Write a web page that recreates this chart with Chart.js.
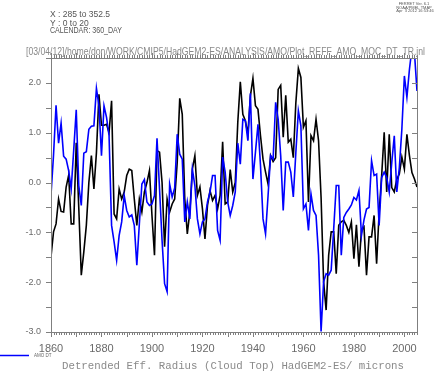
<!DOCTYPE html>
<html><head><meta charset="utf-8">
<script src="https://cdn.jsdelivr.net/npm/chart.js@4"></script>
<style>html,body{margin:0;padding:0;background:#fff;overflow:hidden}canvas{display:block}</style>
</head><body>
<canvas id="c" width="445" height="371"></canvas>
<script>
// ---- data ----
const years = [1860,1861,1862,1863,1864,1865,1866,1867,1868,1869,1870,1871,1872,1873,1874,1875,1876,1877,1878,1879,
1880,1881,1882,1883,1884,1885,1886,1887,1888,1889,1890,1891,1892,1893,1894,1895,1896,1897,1898,1899,
1900,1901,1902,1903,1904,1905,1906,1907,1908,1909,1910,1911,1912,1913,1914,1915,1916,1917,1918,1919,
1920,1921,1922,1923,1924,1925,1926,1927,1928,1929,1930,1931,1932,1933,1934,1935,1936,1937,1938,1939,
1940,1941,1942,1943,1944,1945,1946,1947,1948,1949,1950,1951,1952,1953,1954,1955,1956,1957,1958,1959,
1960,1961,1962,1963,1964,1965,1966,1967,1968,1969,1970,1971,1972,1973,1974,1975,1976,1977,1978,1979,
1980,1981,1982,1983,1984,1985,1986,1987,1988,1989,1990,1991,1992,1993,1994,1995,1996,1997,1998,1999,
2000,2001,2002,2003,2004,2005];

// black series: detrended effective radius (cloud top)
const reffDT = [-1.49,-0.99,-0.83,-0.33,-0.58,-0.59,-0.09,0.15,-0.83,-0.83,
0.80,-0.50,-1.86,-1.39,-0.86,0.00,0.54,-0.13,0.60,1.77,
1.15,1.15,1.17,1.00,1.64,-0.63,-0.73,-0.13,-0.33,-0.19,
0.14,0.27,0.24,-0.33,-0.86,-0.33,-0.59,-0.19,0.00,0.24,
-0.66,-1.46,0.64,0.61,0.00,-1.29,-0.33,-0.59,-0.43,-0.33,
0.40,1.69,1.37,-0.33,-1.03,-0.59,0.27,0.54,-0.26,-0.09,
-0.53,-1.13,-0.46,-0.16,-0.36,-0.26,-0.53,-0.26,0.82,-0.43,
-0.39,0.26,-0.19,0.00,1.21,2.02,1.37,1.24,0.97,1.74,
2.09,1.54,1.47,0.94,0.47,0.21,-0.03,0.54,0.42,0.50,
1.87,1.95,0.91,1.75,0.81,0.87,0.50,1.60,2.29,2.11,
1.11,1.24,-0.39,0.94,0.84,1.27,0.84,-0.30,-1.99,-2.56,
-1.46,-0.99,-0.99,-1.83,-0.86,-0.79,-0.76,-0.86,-1.00,-0.79,
-1.53,-0.85,-1.69,-0.95,-0.89,-1.86,-1.09,-1.09,-0.66,-1.63,
-0.60,0.14,1.01,-0.19,0.97,-0.10,-0.19,0.07,0.17,0.51,
0.27,0.97,0.54,0.20,0.07,-0.09];

// blue series: AMO DT
const amoDT = [-0.25,0.55,1.55,0.79,1.19,0.53,0.47,0.24,-0.13,0.65,
1.46,-0.06,-0.46,0.59,0.62,1.07,1.13,1.14,1.89,1.54,
0.54,1.54,1.31,0.94,-0.86,-1.19,-1.56,-1.06,-0.79,-0.26,
-0.56,-0.69,-0.65,-0.86,-1.66,-0.83,-0.03,0.06,-0.39,-0.46,
-0.43,-0.26,0.89,-0.13,-1.16,-2.03,-2.19,-0.03,-0.29,-0.11,
0.97,0.57,0.47,-0.79,-0.39,-0.73,0.27,-0.06,-0.73,-1.03,
-0.79,-0.73,-0.39,-0.19,0.14,0.14,-0.96,-1.16,0.51,0.21,
-0.39,-0.66,-0.46,-0.19,0.79,0.37,1.27,1.24,0.84,1.79,
0.07,0.61,1.17,0.34,-0.73,-1.03,-0.26,0.54,0.47,1.61,
1.27,0.54,-0.56,0.41,0.41,0.21,-0.29,0.60,1.44,1.14,
-0.53,-0.43,-0.96,-0.23,-0.56,-0.66,-1.46,-2.99,-1.99,-1.83,
-1.86,-1.76,-0.93,-0.06,-0.06,-1.46,-0.70,-0.60,-0.53,-0.45,
-0.30,-0.35,-0.16,-1.06,-0.75,-0.53,-0.50,0.44,0.14,0.17,
-0.86,0.10,0.21,0.10,-0.19,0.40,0.94,-0.19,0.30,1.07,
2.14,1.71,2.27,2.70,2.60,1.84];

const xTickLabels = [1860,1880,1900,1920,1940,1960,1980,2000];
const yTickLabels = [-3,-2,-1,0,1,2];
const legendLabel = "AMO DT";
const xAxisTitle = "Detrended Eff. Radius (Cloud Top) HadGEM2-ES/ microns";
const headerLines = ["X : 285 to 352.5","Y : 0 to 20","CALENDAR: 360_DAY"];
const stampLines = ["FERRET Ver. 6.1","NOAA/PMEL TMAP","Apr  3 2012 16:53:46"];
const pathLine = "[03/04/12]/home/don/WORK/CMIP5/HadGEM2-ES/ANALYSIS/AMO/Plot_REFF_AMO_MOC_DT_TR.jnl";

const toXY = (arr) => arr.map((v,i)=>({x:years[i], y:v}));

const AXIS = '#7f7f7f';
const TXT = '#6a6a6a';

const decor = {
  id:'decor',
  afterDraw(chart){
    const {ctx, chartArea:a, scales:{x, y}} = chart;
    ctx.save();
    ctx.strokeStyle = AXIS; ctx.lineWidth = 1;
    ctx.strokeRect(Math.round(a.left)+0.5, Math.round(a.top)+0.5, Math.round(a.right-a.left), Math.round(a.bottom-a.top));
    ctx.beginPath();
    for (let yr = 1860; yr <= 2005; yr++) {
      const px = Math.round(x.getPixelForValue(yr))+0.5;
      const L = (yr % 10 === 0) ? 5 : 3;
      ctx.moveTo(px, a.bottom); ctx.lineTo(px, a.bottom + L);
      ctx.moveTo(px, a.top); ctx.lineTo(px, a.top - L);
    }
    for (let k = 0; k <= 11; k++) {
      const v = -3 + k*0.5;
      const py = Math.round(y.getPixelForValue(v))+0.5;
      ctx.moveTo(a.left, py); ctx.lineTo(a.left - 5, py);
      ctx.moveTo(a.right, py); ctx.lineTo(a.right - 5, py);
    }
    ctx.stroke();

    ctx.fillStyle = '#555';
    ctx.font = '8.5px "Liberation Sans", sans-serif';
    ctx.textBaseline = 'alphabetic'; ctx.textAlign = 'left';
    ctx.fillText(headerLines[0], 50, 17, 63);
    ctx.fillText(headerLines[1], 50, 25.5, 40);
    ctx.fillText(headerLines[2], 50, 33, 72);
    ctx.font = '4px "Liberation Sans", sans-serif';
    ctx.textAlign = 'center';
    ctx.fillText(stampLines[0], 414, 5, 32);
    ctx.fillText(stampLines[1], 414, 8.5, 36);
    ctx.fillText(stampLines[2], 415, 12, 44);
    ctx.fillStyle = '#8a8a8a';
    ctx.textAlign = 'left';
    ctx.font = '11px "Liberation Sans", sans-serif';
    ctx.fillText(pathLine, 26, 55, 399);
    ctx.strokeStyle = '#0000ff'; ctx.lineWidth = 1.5;
    ctx.beginPath(); ctx.moveTo(0, 355.5); ctx.lineTo(29, 355.5); ctx.stroke();
    ctx.fillStyle = '#666';
    ctx.font = '4.5px "Liberation Sans", sans-serif';
    ctx.fillText(legendLabel, 34, 357, 20);
    ctx.fillStyle = '#8a8a8a';
    ctx.font = '11.5px "Liberation Mono", monospace';
    ctx.fillText(xAxisTitle, 62, 369, 342);
    ctx.restore();
  }
};

new Chart(document.getElementById('c'), {
  type: 'line',
  data: { datasets: [
    { label: legendLabel, data: toXY(amoDT), borderColor: '#0000ff', borderWidth: 1.6, pointRadius: 0, tension: 0, order: 0 },
    { label: 'REFF DT', data: toXY(reffDT), borderColor: '#000000', borderWidth: 1.6, pointRadius: 0, tension: 0, order: 1 }
  ]},
  options: {
    responsive: false, animation: false, devicePixelRatio: 1,
    layout: { padding: { top: 58, right: 28, left: 0, bottom: 0 } },
    plugins: { legend: { display: false }, tooltip: { enabled: false } },
    scales: {
      x: { type: 'linear', min: 1860, max: 2005,
           afterFit: s => { s.height = 39; },
           grid: { display: false, drawTicks: false }, border: { display: false },
           afterBuildTicks: s => { s.ticks = xTickLabels.map(v => ({value: v})); },
           ticks: { color: TXT, font: { family: '"Liberation Sans", sans-serif', size: 11 }, padding: 10, maxRotation: 0, callback: v => String(v) } },
      y: { min: -3, max: 2.5,
           afterFit: s => { s.width = 51; },
           grid: { display: false, drawTicks: false }, border: { display: false },
           afterBuildTicks: s => { s.ticks = yTickLabels.map(v => ({value: v})); },
           ticks: { color: TXT, font: { family: '"Liberation Sans", sans-serif', size: 9 }, padding: 10, callback: v => Number(v).toFixed(1) } }
    }
  },
  plugins: [decor]
});
</script>
</body></html>
